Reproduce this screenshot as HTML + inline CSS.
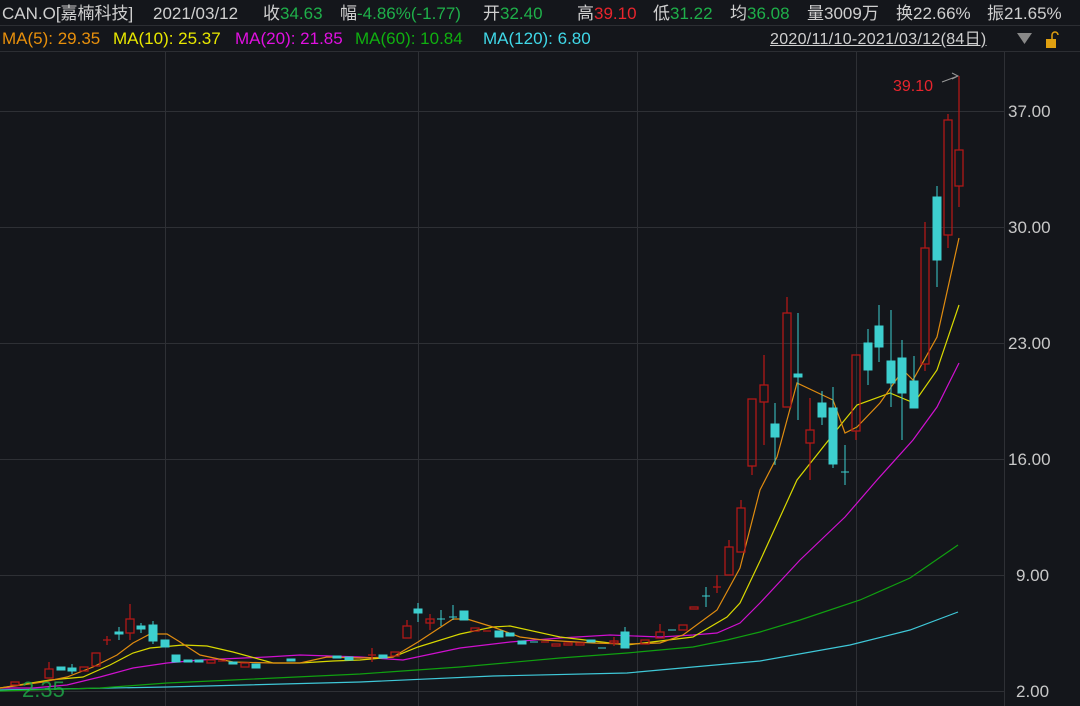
<!DOCTYPE html>
<html><head><meta charset="utf-8"><style>
body{margin:0;background:#14161b;width:1080px;height:706px;overflow:hidden;font-family:"Liberation Sans","Noto Sans CJK SC",sans-serif}
.t{position:absolute;white-space:nowrap;line-height:22px}
.a{top:3px;font-size:17px;color:#cfcfcf}
.b{top:28px;font-size:17px}
.g{color:#1fb04a}.r{color:#e8252d}
</style></head><body>
<div class="t a" style="left:2px">CAN.O[嘉楠科技]</div>
<div class="t a" style="left:153px">2021/03/12</div>
<div class="t a" style="left:263px">收<span class="g">34.63</span></div>
<div class="t a" style="left:340px">幅<span class="g">-4.86%(-1.77)</span></div>
<div class="t a" style="left:483px">开<span class="g">32.40</span></div>
<div class="t a" style="left:577px">高<span class="r">39.10</span></div>
<div class="t a" style="left:653px">低<span class="g">31.22</span></div>
<div class="t a" style="left:730px">均<span class="g">36.08</span></div>
<div class="t a" style="left:807px">量3009万</div>
<div class="t a" style="left:896px">换22.66%</div>
<div class="t a" style="left:987px">振21.65%</div>
<div class="t b" style="left:2px;color:#e8900c">MA(5): 29.35</div>
<div class="t b" style="left:113px;color:#e8e800">MA(10): 25.37</div>
<div class="t b" style="left:235px;color:#e010e0">MA(20): 21.85</div>
<div class="t b" style="left:355px;color:#10b010">MA(60): 10.84</div>
<div class="t b" style="left:483px;color:#40d8e8">MA(120): 6.80</div>
<div class="t b" style="left:770px;width:246px;color:#d0d0d0;text-decoration:underline;font-size:16px;top:29px;letter-spacing:0.3px">2020/11/10-2021/03/12(84日)</div>
<svg width="1080" height="706" style="position:absolute;left:0;top:0">
<polygon points="1017,33 1032,33 1024.5,44" fill="#888"/>
<rect x="1046" y="39" width="10" height="9" fill="#e0a010"/><path d="M1052 39 v-4 a3 3 0 0 1 6 0" stroke="#e0a010" fill="none" stroke-width="1.5"/>
<line x1="0" y1="25.5" x2="1080" y2="25.5" stroke="#2c2e33"/>
<line x1="0" y1="51.5" x2="1080" y2="51.5" stroke="#2c2e33"/>
<g stroke="#2e3035" stroke-width="1">
<line x1="0" y1="111.5" x2="1004" y2="111.5"/><line x1="0" y1="227.5" x2="1004" y2="227.5"/><line x1="0" y1="343.5" x2="1004" y2="343.5"/><line x1="0" y1="459.5" x2="1004" y2="459.5"/><line x1="0" y1="575.5" x2="1004" y2="575.5"/><line x1="0" y1="691.5" x2="1004" y2="691.5"/>
<line x1="165.5" y1="52" x2="165.5" y2="706"/><line x1="418.5" y1="52" x2="418.5" y2="706"/><line x1="637.5" y1="52" x2="637.5" y2="706"/><line x1="856.5" y1="52" x2="856.5" y2="706"/><line x1="1004.5" y1="52" x2="1004.5" y2="706"/>
</g>
<g font-size="17" fill="#c8c8c8">
<text x="1008" y="117">37.00</text><text x="1008" y="233">30.00</text><text x="1008" y="349">23.00</text><text x="1008" y="465">16.00</text><text x="1016" y="581">9.00</text><text x="1016" y="697">2.00</text>
</g>
<text x="893" y="91" font-size="16" fill="#e8252d">39.10</text>
<path d="M942 82 L958 76 M952 73 L958 76 L952 79" stroke="#999" fill="none"/>
<g fill="none" stroke-width="1.2">
<polyline stroke="#3fc8d8" points="0,690 167,687 360,682 493,676 627,673 693,667 760,661 850,645 910,630 958,612"/>
<polyline stroke="#10a010" points="0,691 100,688 167,683 233,680 360,674 460,667 560,658 627,653 693,647 727,640 760,632 800,620 860,600 910,578 958,545"/>
<polyline stroke="#d010d0" points="0,688 33,688 67,685 100,677 133,668 167,663 200,660 267,657 300,655 360,657 403,660 460,648 510,642 560,638 610,635 660,637 693,635 717,633 740,623 760,603 800,560 845,517 877,480 913,440 937,407 959,363"/>
<polyline stroke="#d8d800" points="0,688 50,680 83,677 110,665 133,653 150,648 183,645 207,646 233,652 273,663 300,663 333,661 360,660 393,657 418,647 460,634 493,627 510,626 560,637 627,645 693,637 727,617 740,603 760,561 797,480 843,422 857,405 890,393 914,403 937,370 959,305"/>
<polyline stroke="#e08c10" points="0,688 43,682 67,677 93,667 117,655 133,643 150,634 167,634 180,642 200,655 233,662 273,663 300,663 327,657 360,658 393,657 418,642 453,619 467,619 493,627 520,637 543,640 593,643 627,644 660,643 683,635 717,610 740,568 760,490 777,457 797,383 833,400 845,433 857,427 880,403 903,370 913,380 937,337 959,238"/>
</g>
<g stroke="#b01818" fill="none" stroke-width="1.3">
<rect x="11" y="682" width="8" height="3"/><rect x="45" y="669" width="8" height="9"/><line x1="49" y1="662" x2="49" y2="669"/>
<rect x="80" y="667" width="8" height="4"/><rect x="92" y="653" width="8" height="13"/><line x1="103" y1="640" x2="111" y2="640"/><line x1="107" y1="636" x2="107" y2="645"/>
<rect x="126" y="619" width="8" height="14"/><line x1="130" y1="604" x2="130" y2="619"/><line x1="130" y1="633" x2="130" y2="640"/>
<rect x="207" y="660" width="8" height="3"/><line x1="218" y1="661" x2="226" y2="661"/><rect x="241" y="663" width="8" height="4"/>
<line x1="368" y1="655" x2="376" y2="655"/><line x1="372" y1="648" x2="372" y2="662"/><rect x="391" y="652" width="8" height="4"/>
<rect x="403" y="626" width="8" height="12"/><line x1="407" y1="620" x2="407" y2="626"/><rect x="426" y="619" width="8" height="4"/><line x1="430" y1="614" x2="430" y2="630"/>
<rect x="471" y="628" width="8" height="3"/><line x1="483" y1="631" x2="491" y2="631"/><line x1="541" y1="642" x2="549" y2="642"/><rect x="552" y="644" width="8" height="2"/>
<rect x="564" y="643" width="8" height="2"/><rect x="576" y="643" width="8" height="2"/><rect x="610" y="641" width="8" height="2"/><line x1="614" y1="637" x2="614" y2="646"/>
<rect x="641" y="640" width="8" height="4"/><rect x="656" y="632" width="8" height="6"/><line x1="660" y1="624" x2="660" y2="632"/><rect x="679" y="625" width="8" height="5"/>
<rect x="690" y="607" width="8" height="2"/><line x1="713" y1="587" x2="721" y2="587"/><line x1="717" y1="575" x2="717" y2="593"/>
<rect x="725" y="547" width="8" height="28"/><line x1="729" y1="540" x2="729" y2="547"/><rect x="737" y="508" width="8" height="44"/><line x1="741" y1="500" x2="741" y2="508"/>
<rect x="748" y="399" width="8" height="67"/><line x1="752" y1="466" x2="752" y2="475"/><rect x="760" y="385" width="8" height="17"/><line x1="764" y1="355" x2="764" y2="385"/><line x1="764" y1="402" x2="764" y2="445"/>
<rect x="783" y="313" width="8" height="94"/><line x1="787" y1="297" x2="787" y2="313"/><rect x="806" y="430" width="8" height="13"/><line x1="810" y1="398" x2="810" y2="430"/><line x1="810" y1="443" x2="810" y2="480"/>
<rect x="852" y="355" width="8" height="76"/><line x1="856" y1="431" x2="856" y2="440"/><rect x="921" y="248" width="8" height="116"/><line x1="925" y1="222" x2="925" y2="248"/><line x1="925" y1="364" x2="925" y2="371"/>
<rect x="944" y="120" width="8" height="115"/><line x1="948" y1="114" x2="948" y2="120"/><line x1="948" y1="235" x2="948" y2="248"/>
<rect x="955" y="150" width="8" height="36"/><line x1="959" y1="76" x2="959" y2="150"/><line x1="959" y1="186" x2="959" y2="207"/>
</g>
<g fill="#3dcfcf" stroke="#3dcfcf" stroke-width="1">
<rect x="57" y="667" width="8" height="3"/><rect x="68" y="668" width="8" height="3"/><line x1="72" y1="664" x2="72" y2="674" />
<rect x="115" y="632" width="8" height="2"/><line x1="119" y1="627" x2="119" y2="640"/><rect x="137" y="626" width="8" height="3"/><line x1="141" y1="623" x2="141" y2="633"/>
<rect x="149" y="625" width="8" height="16"/><line x1="153" y1="621" x2="153" y2="644"/><rect x="161" y="640" width="8" height="7"/>
<rect x="172" y="655" width="8" height="7"/><rect x="184" y="660" width="8" height="2"/><rect x="195" y="660" width="8" height="2"/>
<rect x="229" y="662" width="8" height="2"/><rect x="252" y="664" width="8" height="4"/><rect x="287" y="659" width="8" height="2"/><rect x="333" y="656" width="8" height="2"/><rect x="345" y="657" width="8" height="3"/>
<rect x="379" y="655" width="8" height="3"/><rect x="414" y="609" width="8" height="4"/><line x1="418" y1="603" x2="418" y2="622"/>
<line x1="437" y1="619" x2="445" y2="619"/><line x1="441" y1="610" x2="441" y2="626"/><line x1="449" y1="617" x2="457" y2="617"/><line x1="453" y1="605" x2="453" y2="620"/>
<rect x="460" y="611" width="8" height="9"/><rect x="495" y="631" width="8" height="6"/><rect x="506" y="633" width="8" height="3"/>
<rect x="518" y="641" width="8" height="3"/><line x1="530" y1="642" x2="538" y2="642"/><rect x="587" y="640" width="8" height="2"/><line x1="598" y1="648" x2="606" y2="648"/>
<rect x="621" y="632" width="8" height="16"/><line x1="625" y1="627" x2="625" y2="632"/><line x1="668" y1="630" x2="676" y2="630"/>
<line x1="702" y1="596" x2="710" y2="596"/><line x1="706" y1="587" x2="706" y2="607"/>
<rect x="771" y="424" width="8" height="13"/><line x1="775" y1="403" x2="775" y2="465"/><rect x="794" y="374" width="8" height="3"/><line x1="798" y1="313" x2="798" y2="420"/>
<rect x="818" y="403" width="8" height="14"/><line x1="822" y1="391" x2="822" y2="425"/><rect x="829" y="408" width="8" height="56"/><line x1="833" y1="387" x2="833" y2="468"/>
<line x1="841" y1="472" x2="849" y2="472"/><line x1="845" y1="445" x2="845" y2="485"/>
<rect x="864" y="343" width="8" height="27"/><line x1="868" y1="329" x2="868" y2="385"/><rect x="875" y="326" width="8" height="21"/><line x1="879" y1="305" x2="879" y2="362"/>
<rect x="887" y="361" width="8" height="22"/><line x1="891" y1="310" x2="891" y2="407"/><rect x="898" y="358" width="8" height="35"/><line x1="902" y1="340" x2="902" y2="440"/>
<rect x="910" y="381" width="8" height="27"/><line x1="914" y1="356" x2="914" y2="381"/><rect x="933" y="197" width="8" height="63"/><line x1="937" y1="186" x2="937" y2="287"/>
</g>
<text x="22" y="697" font-size="22" fill="#1fb04a" opacity="0.8">2.35</text>
</svg>
</body></html>
